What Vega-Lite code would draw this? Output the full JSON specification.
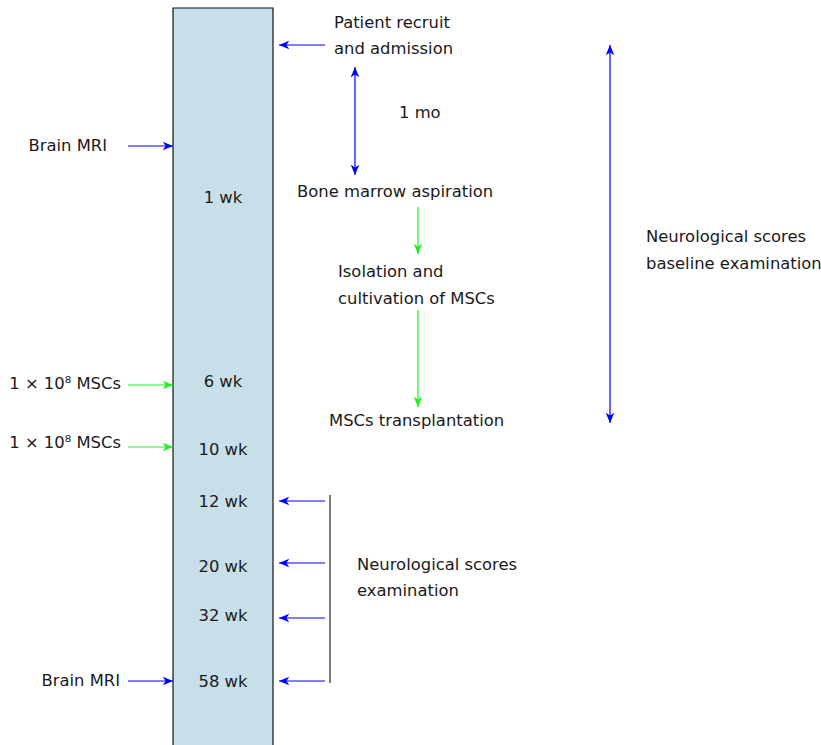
{
  "$schema": "https://vega.github.io/schema/vega-lite/v6.json",
  "width": 821,
  "height": 745,
  "padding": 0,
  "autosize": {"type": "none"},
  "background": "white",
  "config": {"view": {"stroke": null}, "text": {"font": "DejaVu Sans", "fontSize": 16.4, "color": "#1a1a1a", "dy": 1}},
  "datasets": {
    "box": [{"x": 173, "x2": 273, "y": 8, "y2": 760}],
    "lines": [
      {"x": 325, "y": 45, "x2": 279, "y2": 45, "kind": "link"},
      {"x": 355, "y": 67, "x2": 355, "y2": 175, "kind": "link"},
      {"x": 610, "y": 45, "x2": 610, "y2": 423, "kind": "link"},
      {"x": 128, "y": 146, "x2": 173, "y2": 146, "kind": "link"},
      {"x": 325, "y": 501, "x2": 279, "y2": 501, "kind": "link"},
      {"x": 325, "y": 563, "x2": 279, "y2": 563, "kind": "link"},
      {"x": 325, "y": 618, "x2": 279, "y2": 618, "kind": "link"},
      {"x": 325, "y": 681, "x2": 279, "y2": 681, "kind": "link"},
      {"x": 128, "y": 681, "x2": 173, "y2": 681, "kind": "link"},
      {"x": 128, "y": 385, "x2": 173, "y2": 385, "kind": "flow"},
      {"x": 128, "y": 447, "x2": 173, "y2": 447, "kind": "flow"},
      {"x": 418, "y": 207, "x2": 418, "y2": 254, "kind": "flow"},
      {"x": 418, "y": 310, "x2": 418, "y2": 407, "kind": "flow"},
      {"x": 330, "y": 495, "x2": 330, "y2": 683, "kind": "bracket"}
    ],
    "heads": [
      {"x": 279, "y": 45, "dir": "left", "kind": "link"},
      {"x": 355, "y": 67, "dir": "up", "kind": "link"},
      {"x": 355, "y": 175, "dir": "down", "kind": "link"},
      {"x": 610, "y": 45, "dir": "up", "kind": "link"},
      {"x": 610, "y": 423, "dir": "down", "kind": "link"},
      {"x": 173, "y": 146, "dir": "right", "kind": "link"},
      {"x": 173, "y": 681, "dir": "right", "kind": "link"},
      {"x": 279, "y": 501, "dir": "left", "kind": "link"},
      {"x": 279, "y": 563, "dir": "left", "kind": "link"},
      {"x": 279, "y": 618, "dir": "left", "kind": "link"},
      {"x": 279, "y": 681, "dir": "left", "kind": "link"},
      {"x": 173, "y": 385, "dir": "right", "kind": "flow"},
      {"x": 173, "y": 447, "dir": "right", "kind": "flow"},
      {"x": 418, "y": 254, "dir": "down", "kind": "flow"},
      {"x": 418, "y": 407, "dir": "down", "kind": "flow"}
    ],
    "leftText": [
      {"x": 334, "y": 22, "text": "Patient recruit"},
      {"x": 334, "y": 48, "text": "and admission"},
      {"x": 399, "y": 112, "text": "1 mo"},
      {"x": 297, "y": 191, "text": "Bone marrow aspiration"},
      {"x": 338, "y": 271, "text": "Isolation and"},
      {"x": 338, "y": 298, "text": "cultivation of MSCs"},
      {"x": 329, "y": 420, "text": "MSCs transplantation"},
      {"x": 646, "y": 236, "text": "Neurological scores"},
      {"x": 646, "y": 263, "text": "baseline examination"},
      {"x": 357, "y": 564, "text": "Neurological scores"},
      {"x": 357, "y": 590, "text": "examination"}
    ],
    "rightText": [
      {"x": 107, "y": 145, "text": "Brain MRI"},
      {"x": 121, "y": 383, "text": "1 × 10⁸ MSCs"},
      {"x": 121, "y": 442, "text": "1 × 10⁸ MSCs"},
      {"x": 120, "y": 680, "text": "Brain MRI"}
    ],
    "boxText": [
      {"x": 223, "y": 197, "text": "1 wk"},
      {"x": 223, "y": 381, "text": "6 wk"},
      {"x": 223, "y": 449, "text": "10 wk"},
      {"x": 223, "y": 501, "text": "12 wk"},
      {"x": 223, "y": 566, "text": "20 wk"},
      {"x": 223, "y": 615, "text": "32 wk"},
      {"x": 223, "y": 681, "text": "58 wk"}
    ]
  },
  "encoding": {
    "x": {"field": "x", "type": "quantitative", "scale": {"domain": [0, 821], "nice": false, "zero": false}, "axis": null},
    "y": {"field": "y", "type": "quantitative", "scale": {"domain": [0, 745], "nice": false, "zero": false, "reverse": true}, "axis": null}
  },
  "layer": [
    {
      "data": {"name": "box"},
      "mark": {"type": "rect", "fill": "#c8dfea", "stroke": "#111111", "strokeWidth": 1.2, "clip": true},
      "encoding": {"x2": {"field": "x2"}, "y2": {"field": "y2"}}
    },
    {
      "data": {"name": "lines"},
      "mark": {"type": "rule", "strokeWidth": 1.2},
      "encoding": {
        "x2": {"field": "x2"},
        "y2": {"field": "y2"},
        "color": {"field": "kind", "type": "nominal", "scale": {"domain": ["link", "flow", "bracket"], "range": ["#0000ff", "#22ee22", "#222222"]}, "legend": null}
      }
    },
    {
      "data": {"name": "heads"},
      "mark": {"type": "point", "filled": true, "opacity": 1, "size": 130, "strokeWidth": 0},
      "encoding": {
        "shape": {"field": "dir", "type": "nominal", "scale": {"domain": ["left", "right", "up", "down"], "range": ["M0,0L1.8,-0.75L1.3,0L1.8,0.75Z", "M0,0L-1.8,-0.75L-1.3,0L-1.8,0.75Z", "M0,0L-0.75,1.8L0,1.3L0.75,1.8Z", "M0,0L-0.75,-1.8L0,-1.3L0.75,-1.8Z"]}, "legend": null},
        "color": {"field": "kind", "type": "nominal", "scale": {"domain": ["link", "flow", "bracket"], "range": ["#0000ff", "#22ee22", "#222222"]}, "legend": null}
      }
    },
    {
      "data": {"name": "leftText"},
      "mark": {"type": "text", "align": "left", "baseline": "middle"},
      "encoding": {"text": {"field": "text"}}
    },
    {
      "data": {"name": "rightText"},
      "mark": {"type": "text", "align": "right", "baseline": "middle"},
      "encoding": {"text": {"field": "text"}}
    },
    {
      "data": {"name": "boxText"},
      "mark": {"type": "text", "align": "center", "baseline": "middle"},
      "encoding": {"text": {"field": "text"}}
    }
  ]
}
